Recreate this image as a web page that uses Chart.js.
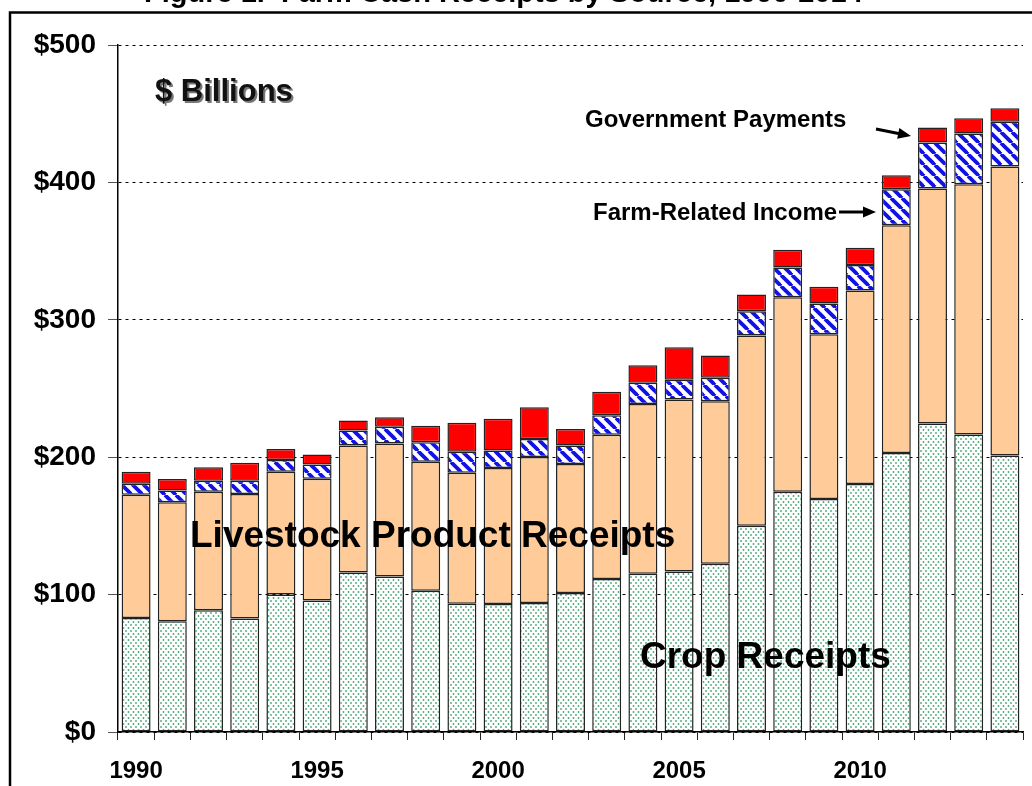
<!DOCTYPE html>
<html>
<head>
<meta charset="utf-8">
<title>Farm Cash Receipts</title>
<script src="https://cdn.jsdelivr.net/npm/chart.js@4.4.0/dist/chart.umd.min.js"></script>
<style>
    html, body { margin: 0; padding: 0; background: #fff; }
    canvas { display: block; }
</style>
</head>
<body>
<canvas id="graficaIngresos" width="1032" height="786"></canvas>
<script>
// --- DATOS (miles de millones de dólares) ---
const anios = ['1990', '1991', '1992', '1993', '1994', '1995', '1996', '1997', '1998', '1999',
               '2000', '2001', '2002', '2003', '2004', '2005', '2006', '2007', '2008', '2009',
               '2010', '2011', '2012', '2013', '2014'];
const cultivos = [83.0, 80.6, 88.6, 82.6, 100.0, 95.7, 116.1, 113.2, 102.8, 93.3,
                  93.1, 93.8, 101.1, 111.3, 115.2, 116.8, 122.4, 150.1, 174.9, 169.6,
                  180.5, 203.1, 224.5, 216.5, 201.2];
const ganado = [89.6, 86.6, 86.2, 90.7, 89.5, 88.7, 92.4, 96.7, 93.8, 95.3,
                99.1, 106.4, 94.0, 105.0, 123.6, 125.2, 118.3, 138.5, 141.6, 119.8,
                140.9, 165.7, 171.0, 182.2, 210.4];
const ingresosRelacionados = [8.0, 8.5, 8.0, 9.5, 8.5, 10.2, 10.9, 12.2, 14.3, 15.3,
                              12.6, 13.1, 13.4, 14.2, 15.4, 14.3, 17.1, 17.7, 21.5, 22.5,
                              18.5, 26.2, 33.6, 36.9, 32.5];
const pagosGobierno = [8.9, 8.5, 9.9, 13.1, 8.0, 7.3, 7.3, 7.0, 11.9, 21.1,
                       23.1, 23.1, 12.1, 17.1, 12.8, 23.8, 16.3, 12.2, 13.0, 12.2,
                       12.6, 10.2, 10.9, 11.0, 9.8];
const aniosEtiqueta = ['1990', '1995', '2000', '2005', '2010'];

const fuente = '"Liberation Sans", Arial, sans-serif';

// Patrón de puntos verdes (cultivos)
function patronPuntos() {
    const c = document.createElement('canvas');
    c.width = 5; c.height = 6;
    const g = c.getContext('2d');
    g.fillStyle = '#ffffff';
    g.fillRect(0, 0, 5, 6);
    g.fillStyle = '#48a678';
    [[1, 1], [3.5, 4]].forEach(([x, y]) => {
        g.beginPath(); g.arc(x, y, 0.9, 0, Math.PI * 2); g.fill();
    });
    return g.createPattern(c, 'repeat');
}

// Patrón de rayas diagonales azules (ingresos relacionados)
function patronRayas() {
    const s = 11;
    const c = document.createElement('canvas');
    c.width = s; c.height = s;
    const g = c.getContext('2d');
    g.fillStyle = '#ffffff';
    g.fillRect(0, 0, s, s);
    g.strokeStyle = '#1212e6';
    g.lineWidth = 3.8;
    for (let k = -1; k <= 1; k++) {
        g.beginPath(); g.moveTo(k * s, 0); g.lineTo(k * s + s, s); g.stroke();
    }
    return g.createPattern(c, 'repeat');
}

function flecha(ctx, x1, y1, x2, y2) {
    const a = Math.atan2(y2 - y1, x2 - x1);
    ctx.lineWidth = 3;
    ctx.beginPath();
    ctx.moveTo(x1, y1);
    ctx.lineTo(x2 - 9 * Math.cos(a), y2 - 9 * Math.sin(a));
    ctx.stroke();
    ctx.beginPath();
    ctx.moveTo(x2, y2);
    ctx.lineTo(x2 - 13 * Math.cos(a) + 5.5 * Math.sin(a), y2 - 13 * Math.sin(a) - 5.5 * Math.cos(a));
    ctx.lineTo(x2 - 13 * Math.cos(a) - 5.5 * Math.sin(a), y2 - 13 * Math.sin(a) + 5.5 * Math.cos(a));
    ctx.closePath();
    ctx.fill();
}

// --- Marco, título recortado y anotaciones ---
const decoracion = {
    id: 'decoracion',
    beforeDraw(chart) {
        const ctx = chart.ctx;
        ctx.save();
        ctx.fillStyle = '#fff';
        ctx.fillRect(0, 0, chart.width, chart.height);
        ctx.fillStyle = '#000';
        ctx.font = 'bold 29px ' + fuente;
        ctx.textBaseline = 'alphabetic';
        ctx.fillText('Figure 1.  Farm Cash Receipts by Source, 1990-2014', 144, 1.5);
        ctx.lineWidth = 2.5;
        ctx.strokeStyle = '#000';
        ctx.strokeRect(10, 12.5, chart.width + 40, chart.height + 40);
        ctx.restore();
    },
    afterDraw(chart) {
        const ctx = chart.ctx;
        ctx.save();
        ctx.fillStyle = '#000';
        ctx.strokeStyle = '#000';
        ctx.textBaseline = 'alphabetic';

        // $ Billions con sombra
        ctx.font = 'bold 31px ' + fuente;
        ctx.fillStyle = '#777';
        ctx.fillText('$ Billions', 157, 103);
        ctx.fillStyle = '#111';
        ctx.fillText('$ Billions', 155, 101);

        ctx.fillStyle = '#000';
        ctx.font = 'bold 37px ' + fuente;
        ctx.fillText('Livestock Product Receipts', 190, 547);
        ctx.fillText('Crop Receipts', 640, 668);

        ctx.font = 'bold 24px ' + fuente;
        ctx.fillText('Government Payments', 585, 127);
        ctx.fillText('Farm-Related Income', 593, 220);

        flecha(ctx, 876, 129, 911, 136);
        flecha(ctx, 839, 212, 876, 212);
        ctx.restore();
    }
};

const ctx = document.getElementById('graficaIngresos');
const borde = { borderColor: '#222', borderWidth: 1.5, borderSkipped: false };

new Chart(ctx, {
    type: 'bar',
    data: {
        labels: anios,
        datasets: [
            { label: 'Crop Receipts', data: cultivos, backgroundColor: patronPuntos(), ...borde },
            { label: 'Livestock Product Receipts', data: ganado, backgroundColor: '#ffcc99', ...borde },
            { label: 'Farm-Related Income', data: ingresosRelacionados, backgroundColor: patronRayas(), ...borde },
            { label: 'Government Payments', data: pagosGobierno, backgroundColor: '#ff0000', ...borde }
        ]
    },
    options: {
        responsive: false,
        animation: false,
        devicePixelRatio: 1,
        layout: { padding: { top: 45, right: 9, left: 0, bottom: 0 } },
        datasets: { bar: { categoryPercentage: 1, barPercentage: 0.8 } },
        plugins: { legend: { display: false }, tooltip: { enabled: false } },
        scales: {
            x: {
                stacked: true,
                offset: true,
                grid: { offset: true, drawOnChartArea: false, tickLength: 8, tickColor: '#222', tickWidth: 1 },
                border: { color: '#000', width: 1.5 },
                ticks: {
                    autoSkip: false,
                    maxRotation: 0,
                    padding: 17,
                    color: '#000',
                    font: { family: fuente, size: 24, weight: 'bold' },
                    callback: function(value, index) {
                        const a = anios[index];
                        return aniosEtiqueta.includes(a) ? a : '';
                    }
                },
                afterFit: (scale) => { scale.height = 54; }
            },
            y: {
                stacked: true,
                min: 0,
                max: 500,
                grid: { color: '#000', lineWidth: 1, tickLength: 10, tickColor: '#555', tickBorderDash: [] },
                border: { color: '#000', width: 1.5, dash: [3, 4] },
                ticks: {
                    stepSize: 100,
                    padding: 12,
                    color: '#000',
                    font: { family: fuente, size: 28, weight: 'bold' },
                    callback: (value) => '$' + value
                },
                afterFit: (scale) => { scale.width = 118; }
            }
        }
    },
    plugins: [decoracion]
});
</script>
</body>
</html>
